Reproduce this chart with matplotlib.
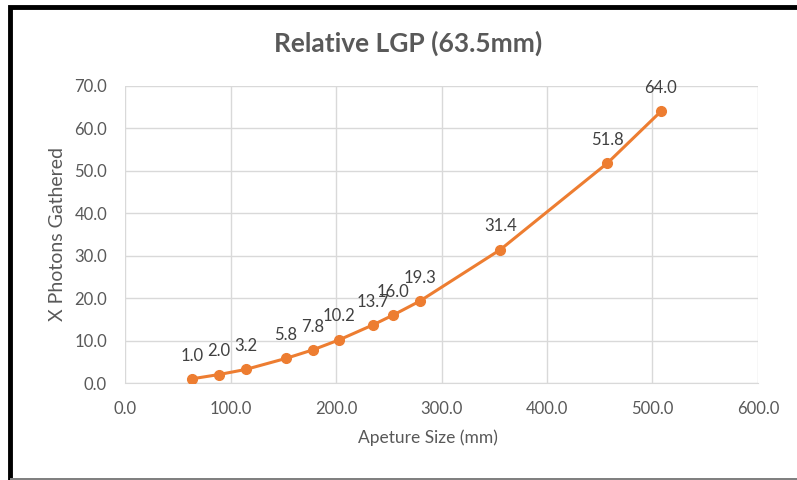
import matplotlib
matplotlib.use('Agg')
import matplotlib.pyplot as plt
from matplotlib.patches import Rectangle

plt.rcParams['font.family'] = ['Lato', 'DejaVu Sans']

# aperture sizes (mm) and light gathering relative to 63.5mm
aperture = [63.5, 88.9, 114.3, 152.4, 177.8, 203.2, 235.0, 254.0, 279.4, 355.6, 457.2, 508.0]
relative = [1.0, 2.0, 3.2, 5.8, 7.8, 10.2, 13.7, 16.0, 19.3, 31.4, 51.8, 64.0]
xticks = [0, 100, 200, 300, 400, 500, 600]
yticks = [0, 10, 20, 30, 40, 50, 60, 70]

orange = '#ED7D31'
grey = '#595959'

fig = plt.figure(figsize=(7.97, 4.80), dpi=100)
ax = fig.add_axes([0.157, 0.202, 0.794, 0.619])

ax.plot(aperture, relative, color=orange, lw=2.2, marker='o', ms=7, zorder=3)
for x, y in zip(aperture, relative):
    ax.annotate('%.1f' % y, (x, y), xytext=(0, 11), textcoords='offset points',
                ha='center', va='bottom', fontsize=12, color='#404040')

ax.set_xlim(0, 600)
ax.set_ylim(0, 70)
ax.set_xticks(xticks)
ax.set_yticks(yticks)
ax.set_xticklabels(['%.1f' % t for t in xticks])
ax.set_yticklabels(['%.1f' % t for t in yticks])
ax.tick_params(length=0, labelsize=12, labelcolor=grey)
ax.tick_params(axis='x', pad=13)
ax.tick_params(axis='y', pad=13)
ax.grid(True, color='#D9D9D9', lw=1)
ax.set_axisbelow(True)
for s in ax.spines.values():
    s.set_visible(False)
ax.spines['bottom'].set_visible(True)
ax.spines['bottom'].set_color('#D9D9D9')

ax.set_xlabel('Apeture Size (mm)', fontsize=12.5, color=grey, labelpad=10)
ax.xaxis.set_label_coords(0.478, -0.155)
ax.set_ylabel('X Photons Gathered', fontsize=14, color=grey, labelpad=6)
fig.text(0.512, 0.91, 'Relative LGP (63.5mm)', ha='center', va='center',
         fontsize=19, fontweight='bold', color=grey)

# frame around the picture
fig.patches.append(Rectangle((0.0125, -0.01), 1.1, 0.996, transform=fig.transFigure,
                             fill=False, edgecolor='black', lw=3.5))
fig.patches.append(Rectangle((0.0125, 0.0), 0.99, 0.004, transform=fig.transFigure,
                             color='#808080', lw=0))

fig.savefig('out.png', dpi=100)
